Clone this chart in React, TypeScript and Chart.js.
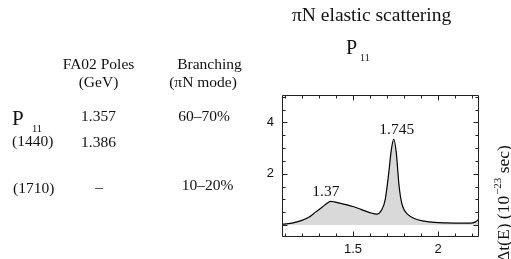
import React, { useEffect, useRef } from "react";
import { Chart, registerables } from "chart.js";

Chart.register(...registerables);

// ---- data ----
const energies = [
  1.08, 1.12, 1.16, 1.2, 1.24, 1.28, 1.32, 1.35, 1.37, 1.39, 1.42, 1.46, 1.5,
  1.55, 1.6, 1.64, 1.67, 1.69, 1.71, 1.725, 1.74, 1.755, 1.77, 1.785, 1.8,
  1.82, 1.86, 1.92, 1.98, 2.05, 2.12, 2.19, 2.22, 2.245,
];
const delays = [
  0.02, 0.05, 0.1, 0.18, 0.3, 0.5, 0.7, 0.86, 0.92, 0.9, 0.85, 0.79, 0.72,
  0.6, 0.48, 0.42, 0.6, 1.0, 2.0, 2.9, 3.35, 2.8, 1.6, 0.9, 0.6, 0.42, 0.25,
  0.15, 0.1, 0.08, 0.07, 0.07, 0.12, 0.26,
];
const peakLabels = ["1.37", "1.745"];
const peakEnergies = [1.37, 1.74];
const peakDelays = [0.92, 3.35];
const xTickLabels = [1.5, 2];
const yTickLabels = [2, 4];

const title = "πN elastic scattering";
const waveName = "P";
const waveSub = "11";
const headerTop = ["FA02 Poles", "Branching"];
const headerBottom = ["(GeV)", "(πN mode)"];
const resonances = ["(1440)", "(1710)"];
const poles = ["1.357", "1.386", "–"];
const branchings = ["60–70%", "10–20%"];
const yAxisTitle = ["Δt(E) (10", "−23", " sec)"];

const SERIF = '"Liberation Serif", "Times New Roman", serif';
const SANS = '"Liberation Sans", Arial, sans-serif';

const framePlugin = {
  id: "frame",
  afterDatasetsDraw(chart: any) {
    const { ctx, chartArea: a, scales } = chart;
    const xs = scales.x;
    const ys = scales.y;
    ctx.save();
    ctx.strokeStyle = "#222";
    ctx.lineWidth = 1;
    const L = Math.round(a.left) + 0.5;
    const R = Math.round(a.right) - 0.5;
    const T = Math.round(a.top) + 0.5;
    const B = Math.round(a.bottom) - 0.5;
    ctx.beginPath();
    ctx.rect(L, T, R - L, B - T);
    // x ticks every 0.1, major every 0.5
    for (let k = Math.ceil(xs.min * 10); k <= Math.floor(xs.max * 10); k++) {
      const px = Math.round(xs.getPixelForValue(k / 10)) + 0.5;
      const len = k % 5 === 0 ? 5 : 3;
      ctx.moveTo(px, B);
      ctx.lineTo(px, B - len);
      ctx.moveTo(px, T);
      ctx.lineTo(px, T + len);
    }
    // y ticks every 0.5, major every 2
    for (let k = Math.ceil(ys.min * 2); k <= Math.floor(ys.max * 2); k++) {
      const py = Math.round(ys.getPixelForValue(k / 2)) + 0.5;
      const len = k % 4 === 0 ? 5 : 3;
      ctx.moveTo(L, py);
      ctx.lineTo(L + len, py);
      ctx.moveTo(R, py);
      ctx.lineTo(R - len, py);
    }
    ctx.stroke();

    // peak annotations
    ctx.fillStyle = "#111";
    ctx.font = `15.5px ${SERIF}`;
    ctx.textAlign = "center";
    ctx.textBaseline = "alphabetic";
    peakLabels.forEach((lab, i) => {
      const px = xs.getPixelForValue(peakEnergies[i]);
      const py = ys.getPixelForValue(peakDelays[i]);
      const dx = i === 0 ? -5 : 3;
      ctx.fillText(lab, px + dx, py - 5);
    });
    ctx.restore();
  },
  afterDraw(chart: any) {
    const { ctx } = chart;
    ctx.save();
    ctx.fillStyle = "#111";
    ctx.textBaseline = "alphabetic";
    // plot title
    ctx.textAlign = "left";
    ctx.font = `19.5px ${SERIF}`;
    ctx.fillText(title, 292, 21);
    ctx.font = `20px ${SERIF}`;
    ctx.fillText(waveName, 346, 54);
    ctx.font = `10px ${SERIF}`;
    ctx.fillText(waveSub, 360, 61);

    // table
    ctx.font = `15.5px ${SERIF}`;
    ctx.textAlign = "center";
    ctx.fillText(headerTop[0], 98.5, 68.5);
    ctx.fillText(headerBottom[0], 98.5, 87);
    ctx.fillText(headerTop[1], 209.5, 68.5);
    ctx.fillText(headerBottom[1], 203, 87);
    ctx.fillText(poles[0], 98.5, 121);
    ctx.fillText(poles[1], 98.5, 147);
    ctx.fillText(poles[2], 99, 192);
    ctx.fillText(branchings[0], 204, 121);
    ctx.fillText(branchings[1], 207.5, 190);
    ctx.textAlign = "left";
    ctx.fillText(resonances[0], 12, 146);
    ctx.fillText(resonances[1], 13, 193);
    ctx.font = `21px ${SERIF}`;
    ctx.fillText(waveName, 12, 125);
    ctx.font = `10.5px ${SERIF}`;
    ctx.fillText(waveSub, 32, 132);

    // rotated axis title on the right
    ctx.translate(509, 262);
    ctx.rotate(-Math.PI / 2);
    ctx.font = `17.5px ${SERIF}`;
    ctx.fillText(yAxisTitle[0], 0, 0);
    let w = ctx.measureText(yAxisTitle[0]).width;
    ctx.font = `11px ${SERIF}`;
    ctx.fillText(yAxisTitle[1], w + 1, -8);
    w += ctx.measureText(yAxisTitle[1]).width + 1;
    ctx.font = `17.5px ${SERIF}`;
    ctx.fillText(yAxisTitle[2], w, 0);
    ctx.restore();
  },
};

export default function App() {
  const ref = useRef<HTMLCanvasElement | null>(null);
  useEffect(() => {
    document.body.style.margin = "0";
    const canvas = ref.current;
    if (!canvas) return;
    const chart = new Chart(canvas, {
      type: "line",
      data: {
        datasets: [
          {
            data: energies.map((x, i) => ({ x, y: delays[i] })),
            borderColor: "#000",
            borderWidth: 1.2,
            backgroundColor: "#d9d9d9",
            fill: "origin",
            pointRadius: 0,
            cubicInterpolationMode: "monotone",
          },
        ],
      },
      options: {
        responsive: false,
        animation: false,
        devicePixelRatio: 1,
        layout: { padding: { left: 0, right: 32, top: 95, bottom: 0 } },
        plugins: {
          legend: { display: false },
          tooltip: { enabled: false },
          title: { display: false },
        },
        scales: {
          x: {
            type: "linear",
            min: 1.083,
            max: 2.241,
            grid: { display: false, drawTicks: false },
            border: { display: false },
            ticks: {
              stepSize: 0.5,
              includeBounds: false,
              autoSkip: false,
              maxRotation: 0,
              padding: 5,
              color: "#111",
              font: { family: SANS, size: 13 },
              callback: (v: any) =>
                xTickLabels.includes(Number(v)) ? String(Number(v)) : "",
            },
            afterFit: (s: any) => {
              s.height = 22;
            },
          },
          y: {
            type: "linear",
            min: -0.47,
            max: 5.07,
            grid: { display: false, drawTicks: false },
            border: { display: false },
            ticks: {
              stepSize: 1,
              includeBounds: false,
              autoSkip: false,
              padding: 8,
              color: "#111",
              font: { family: SANS, size: 13 },
              callback: (v: any) =>
                yTickLabels.includes(Number(v)) ? String(Number(v)) : "",
            },
            afterFit: (s: any) => {
              s.width = 282;
            },
          },
        },
      },
      plugins: [framePlugin],
    } as any);
    return () => chart.destroy();
  }, []);
  return (
    <div style={{ position: "absolute", left: 0, top: 0, width: 511, height: 259 }}>
      <canvas ref={ref} width={511} height={259} style={{ display: "block" }} />
    </div>
  );
}
